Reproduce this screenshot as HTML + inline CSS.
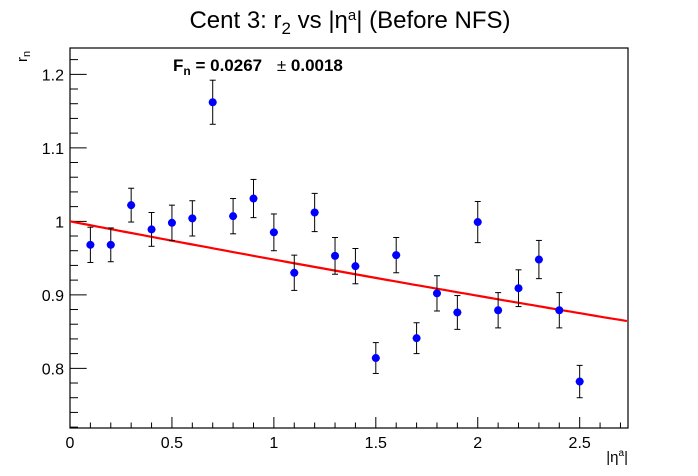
<!DOCTYPE html>
<html><head><meta charset="utf-8"><style>
body{margin:0;background:#fff;}
svg{display:block;font-family:"Liberation Sans",sans-serif;}
</style></head><body>
<svg id="chart" width="698" height="476" xmlns="http://www.w3.org/2000/svg">
<rect width="698" height="476" fill="#fff"/>
<text x="350" y="28" text-anchor="middle" font-size="24">Cent 3: r<tspan font-size="17" dy="6">2</tspan><tspan dy="-6"> vs |η</tspan><tspan font-size="15" dy="-8">a</tspan><tspan dy="8">| (Before NFS)</tspan></text>
<text x="173" y="71" font-size="17" font-weight="bold">F<tspan font-size="12" dy="4">n</tspan><tspan dy="-4"> = 0.0267 </tspan><tspan dx="10" font-weight="normal">±</tspan><tspan> 0.0018</tspan></text>
<g id="axes"></g>
<g id="fit"></g>
<g id="points"></g>
<text transform="translate(27,62) rotate(-90)" font-size="15">r<tspan font-size="11" dy="3">n</tspan></text>
<text x="628" y="462" text-anchor="end" font-size="15">|η<tspan font-size="10" dy="-6">a</tspan><tspan dy="6">|</tspan></text>
</svg>
<script>
const xValues=[0.1,0.2,0.3,0.4,0.5,0.6,0.7,0.8,0.9,1.0,1.1,1.2,1.3,1.4,1.5,1.6,1.7,1.8,1.9,2.0,2.1,2.2,2.3,2.4,2.5];
const yValues=[0.968,0.968,1.022,0.989,0.998,1.004,1.162,1.007,1.031,0.985,0.930,1.012,0.953,0.939,0.814,0.954,0.841,0.902,0.876,0.999,0.879,0.909,0.948,0.879,0.782];
const yErrors=[0.024,0.023,0.023,0.023,0.024,0.024,0.030,0.024,0.026,0.025,0.024,0.026,0.025,0.024,0.021,0.024,0.021,0.024,0.023,0.028,0.024,0.025,0.026,0.024,0.022];
const fitParam=0.0267;
const xTickLabels=["0","0.5","1","1.5","2","2.5"];
const yTickLabels=["0.8","0.9","1","1.1","1.2"];
const X0=70,X1=628,Y0=428,Y1=48,xmin=0,xmax=2.737,ymin=0.7188,ymax=1.2358;
const sx=v=>X0+(v-xmin)/(xmax-xmin)*(X1-X0);
const sy=v=>Y0-(v-ymin)/(ymax-ymin)*(Y0-Y1);
const NS="http://www.w3.org/2000/svg";
function mk(tag,attrs,parent){const e=document.createElementNS(NS,tag);for(const k in attrs)e.setAttribute(k,attrs[k]);parent.appendChild(e);return e;}
const axes=document.getElementById('axes');
const frame=mk('rect',{x:X0,y:Y1,width:X1-X0,height:Y0-Y1,fill:'none',stroke:'#000','stroke-width':1.2},axes);


// x ticks
for(let i=0;i*0.1<=xmax+1e-9;i++){const v=i*0.1;const major=i%5===0;
 const t=mk('line',{x1:sx(v),x2:sx(v),y1:Y0,y2:Y0-(major?11:5.5),stroke:'#000','stroke-width':1},axes);
 
 }
xTickLabels.forEach(s=>{const t=mk('text',{x:sx(parseFloat(s)),y:Y0+20,'text-anchor':'middle','font-size':16},axes);t.textContent=s;
 
 });
// y ticks
for(let i=Math.ceil(ymin/0.02);i*0.02<=ymax;i++){const v=i*0.02;const major=i%5===0;
 const t=mk('line',{x1:X0,x2:X0+(major?16.7:8),y1:sy(v),y2:sy(v),stroke:'#000','stroke-width':1},axes);
 
 }
yTickLabels.forEach(s=>{const t=mk('text',{x:X0-6,y:sy(parseFloat(s))+6,'text-anchor':'end','font-size':16},axes);t.textContent=s;
 
 });
// fit
const fit=document.getElementById('fit');let d='';
for(let i=0;i<=100;i++){const v=xmin+(xmax-xmin)*0.998*i/100;d+=(i?'L':'M')+sx(v).toFixed(1)+','+sy(Math.exp(-2*fitParam*v)).toFixed(1);}
const fl=mk('path',{d:d,fill:'none',stroke:'#ff0000','stroke-width':2.2},fit);


// points
const pts=document.getElementById('points');
xValues.forEach((xv,i)=>{const g=mk('g',{},pts);
 
 
 const cx=sx(xv),cy=sy(yValues[i]),top=sy(yValues[i]+yErrors[i]),bot=sy(yValues[i]-yErrors[i]);
 mk('line',{x1:cx,x2:cx,y1:top,y2:bot,stroke:'#000','stroke-width':1},g);
 mk('line',{x1:cx-3,x2:cx+3,y1:top,y2:top,stroke:'#000','stroke-width':1},g);
 mk('line',{x1:cx-3,x2:cx+3,y1:bot,y2:bot,stroke:'#000','stroke-width':1},g);
 mk('line',{x1:cx-4,x2:cx+4,y1:cy,y2:cy,stroke:'#0000ff','stroke-width':1},g);
 mk('circle',{cx:cx,cy:cy,r:4,fill:'#0000ff'},g);});
</script>
</body></html>
